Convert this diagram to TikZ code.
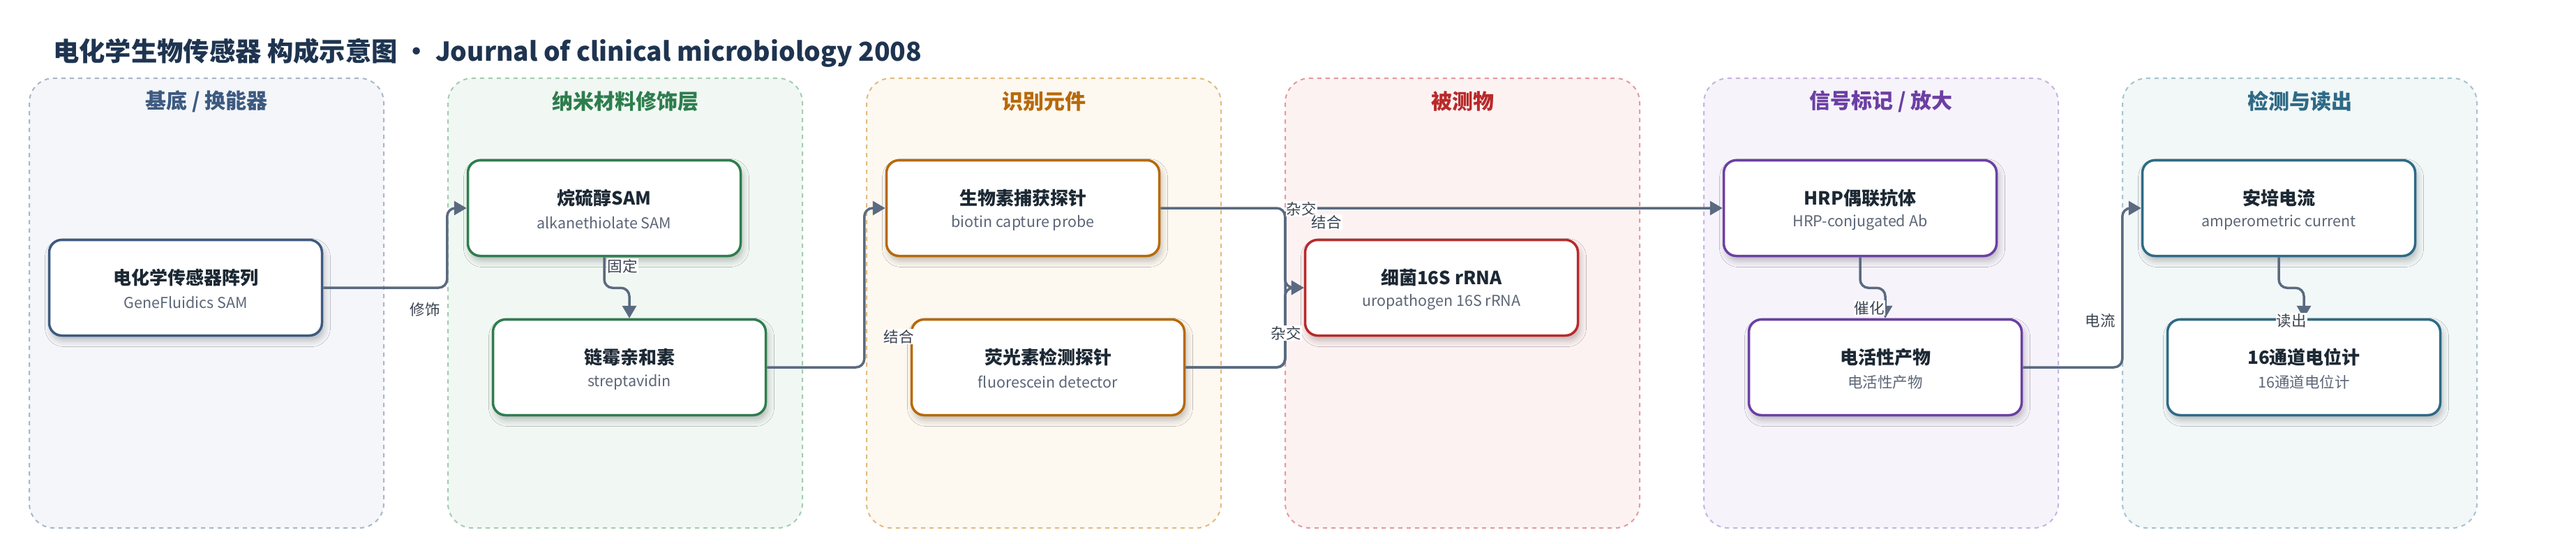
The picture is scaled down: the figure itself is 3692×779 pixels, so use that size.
\documentclass[tikz,border=0pt]{standalone}
\usepackage{fontspec}
\setmainfont{Noto Sans CJK SC}
\usetikzlibrary{arrows.meta,shadows.blur}
\definecolor{titlec}{HTML}{1E3450}
\definecolor{mainc}{HTML}{1C2833}
\definecolor{subc}{HTML}{5C6677}
\definecolor{edgec}{HTML}{5A6A80}
\definecolor{lblc}{HTML}{3A4350}
\definecolor{pfA}{HTML}{F4F6FA}\definecolor{plA}{HTML}{A9B6C9}\definecolor{pcA}{HTML}{3D5A80}
\definecolor{pfB}{HTML}{F1F8F3}\definecolor{plB}{HTML}{A3CCB0}\definecolor{pcB}{HTML}{2E7D4E}
\definecolor{pfC}{HTML}{FDF8F0}\definecolor{plC}{HTML}{E0BB80}\definecolor{pcC}{HTML}{B7690A}
\definecolor{pfD}{HTML}{FDF2F2}\definecolor{plD}{HTML}{E39A9E}\definecolor{pcD}{HTML}{B82A2A}
\definecolor{pfE}{HTML}{F6F3FB}\definecolor{plE}{HTML}{C6B4E0}\definecolor{pcE}{HTML}{6C3FA3}
\definecolor{pfF}{HTML}{F2F7F8}\definecolor{plF}{HTML}{A4C3CF}\definecolor{pcF}{HTML}{2E6A86}
\begin{document}
\begin{tikzpicture}[x=1pt,y=-1pt,
  panelbox/.style={dash pattern=on 6pt off 6pt, line width=2pt, rounded corners=35pt},
  hdr/.style={font=\fontsize{30}{34}\selectfont\bfseries, inner sep=0pt},
  card/.style={rectangle, rounded corners=18pt, minimum width=391pt, minimum height=137pt,
    fill=white, line width=3.5pt,
    blur shadow={shadow xshift=3pt, shadow yshift=-7pt, shadow blur radius=9pt, shadow opacity=25}},
  maintxt/.style={font=\fontsize{26}{30}\selectfont\bfseries, text=mainc, inner sep=0pt},
  subtxt/.style={font=\fontsize{21.5}{26}\selectfont, text=subc, inner sep=0pt},
  edge/.style={draw=edgec, line width=3.5pt, rounded corners=12pt, -{Triangle[length=18pt,width=20pt]}},
  elbl/.style={font=\fontsize{21.5}{26}\selectfont, text=lblc, fill=white, inner sep=1pt}
]
\useasboundingbox[fill=white] (0,0) rectangle (3692,779);

% title
\node[anchor=west, font=\fontsize{37.3}{43}\selectfont\bfseries, text=titlec, inner sep=0pt] (title) at (76,76)
  {电化学生物传感器 构成示意图 · Journal of clinical microbiology 2008};

% panels
\draw[panelbox, draw=plA, fill=pfA] (42,112) rectangle (550,756);
\draw[panelbox, draw=plB, fill=pfB] (642,112) rectangle (1150,756);
\draw[panelbox, draw=plC, fill=pfC] (1242,112) rectangle (1750,756);
\draw[panelbox, draw=plD, fill=pfD] (1842,112) rectangle (2350,756);
\draw[panelbox, draw=plE, fill=pfE] (2442,112) rectangle (2950,756);
\draw[panelbox, draw=plF, fill=pfF] (3042,112) rectangle (3550,756);
\node[hdr, text=pcA] (hA) at (296,145) {基底 / 换能器};
\node[hdr, text=pcB] (hB) at (896,145) {纳米材料修饰层};
\node[hdr, text=pcC] (hC) at (1496,145) {识别元件};
\node[hdr, text=pcD] (hD) at (2096,145) {被测物};
\node[hdr, text=pcE] (hE) at (2696,145) {信号标记 / 放大};
\node[hdr, text=pcF] (hF) at (3296,145) {检测与读出};

% cards
\node[card, draw=pcA] (n1) at (266,412) {};
\node[card, draw=pcB] (n2) at (866,298) {};
\node[card, draw=pcB] (n3) at (902,526) {};
\node[card, draw=pcC] (n4) at (1466,298) {};
\node[card, draw=pcC] (n5) at (1502,526) {};
\node[card, draw=pcD] (n6) at (2066,412) {};
\node[card, draw=pcE] (n7) at (2666,298) {};
\node[card, draw=pcE] (n8) at (2702,526) {};
\node[card, draw=pcF] (n9) at (3266,298) {};
\node[card, draw=pcF] (n10) at (3302,526) {};

\node[maintxt] (n1a) at ([yshift=14pt]n1.center) {电化学传感器阵列};
\node[subtxt] (n1b) at ([yshift=-21pt]n1.center) {GeneFluidics SAM};
\node[maintxt] (n2a) at ([yshift=14pt]n2.center) {烷硫醇SAM};
\node[subtxt] (n2b) at ([yshift=-21pt]n2.center) {alkanethiolate SAM};
\node[maintxt] (n3a) at ([yshift=14pt]n3.center) {链霉亲和素};
\node[subtxt] (n3b) at ([yshift=-21pt]n3.center) {streptavidin};
\node[maintxt] (n4a) at ([yshift=14pt]n4.center) {生物素捕获探针};
\node[subtxt] (n4b) at ([yshift=-21pt]n4.center) {biotin capture probe};
\node[maintxt] (n5a) at ([yshift=14pt]n5.center) {荧光素检测探针};
\node[subtxt] (n5b) at ([yshift=-21pt]n5.center) {fluorescein detector};
\node[maintxt] (n6a) at ([yshift=14pt]n6.center) {细菌16S rRNA};
\node[subtxt] (n6b) at ([yshift=-21pt]n6.center) {uropathogen 16S rRNA};
\node[maintxt] (n7a) at ([yshift=14pt]n7.center) {HRP偶联抗体};
\node[subtxt] (n7b) at ([yshift=-21pt]n7.center) {HRP-conjugated Ab};
\node[maintxt] (n8a) at ([yshift=14pt]n8.center) {电活性产物};
\node[subtxt] (n8b) at ([yshift=-21pt]n8.center) {电活性产物};
\node[maintxt] (n9a) at ([yshift=14pt]n9.center) {安培电流};
\node[subtxt] (n9b) at ([yshift=-21pt]n9.center) {amperometric current};
\node[maintxt] (n10a) at ([yshift=14pt]n10.center) {16通道电位计};
\node[subtxt] (n10b) at ([yshift=-21pt]n10.center) {16通道电位计};

% edges
\coordinate (j1) at (1842,298);
\draw[edge] (n1.east) -| ([xshift=-28pt]n2.west) -- (n2.west);
\draw[edge] (n2.south) -- ++(0,44) -| (n3.north);
\draw[edge] (n3.east) -| ([xshift=-30pt]n4.west) -- (n4.west);
\draw[edge] (n4.east) -| ([xshift=-27pt]n6.west) -- (n6.west);
\draw[edge] (n5.east) -| ([xshift=-27pt]n6.west) -- (n6.west);
\draw[edge] (n5.east) -| (j1) -- (n7.west);
\draw[edge] (n7.south) -- ++(0,44) -| (n8.north);
\draw[edge] (n8.east) -| ([xshift=-27pt]n9.west) -- (n9.west);
\draw[edge] (n9.south) -- ++(0,44) -| (n10.north);

% edge labels
\node[elbl] (l1) at (609,443) {修饰};
\node[elbl] (l2) at (892,381) {固定};
\node[elbl] (l3) at (1288,482) {结合};
\node[elbl] (l4) at (1865,299) {杂交};
\node[elbl] (l5) at (1843,477) {杂交};
\node[elbl] (l6) at (1901,318) {结合};
\node[elbl] (l7) at (2679,441) {催化};
\node[elbl] (l8) at (3010,459) {电流};
\node[elbl] (l9) at (3284,459) {读出};
\end{tikzpicture}
\end{document}
